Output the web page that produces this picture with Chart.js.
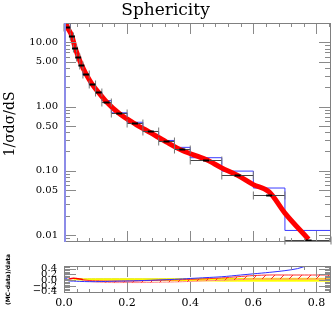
<!DOCTYPE html>
<html>
<head>
<meta charset="utf-8">
<script src="https://cdn.jsdelivr.net/npm/chart.js@4.4.0/dist/chart.umd.min.js"></script>
<style>
  body { margin: 0; background: #fff; }
  #wrap { position: relative; width: 332px; height: 310px; }
  #main { position: absolute; left: 0; top: 0; }
  #ratio { position: absolute; left: 0; top: 253px; }
</style>
</head>
<body>
<div id="wrap">
  <canvas id="main" width="332" height="254"></canvas>
  <canvas id="ratio" width="332" height="57"></canvas>
</div>
<script>
// bins and data points (1/sigma dsigma/dS)
var binEdges = [0.0, 0.02, 0.03, 0.04, 0.05, 0.06, 0.08, 0.10, 0.12, 0.15, 0.20, 0.25, 0.30, 0.35, 0.40, 0.50, 0.60, 0.70, 0.85];
var dataX = [0.01, 0.025, 0.035, 0.045, 0.055, 0.07, 0.09, 0.11, 0.135, 0.175, 0.225, 0.275, 0.325, 0.375, 0.45, 0.55, 0.65, 0.775];
var dataY = [17.5, 12.7, 8.1, 5.9, 4.5, 3.25, 2.25, 1.7, 1.19, 0.79, 0.56, 0.41, 0.29, 0.219, 0.147, 0.086, 0.042, 0.0084];
// blue histogram
var histY = [22, 12.5, 8.0, 5.7, 4.3, 3.1, 2.2, 1.68, 1.24, 0.80, 0.57, 0.41, 0.297, 0.232, 0.16, 0.099, 0.054, 0.0118];
// red curve
var mcX = [0.003, 0.01, 0.025, 0.035, 0.045, 0.055, 0.07, 0.09, 0.11, 0.135, 0.175, 0.225, 0.275, 0.325, 0.375, 0.45, 0.5, 0.55, 0.6, 0.65, 0.7, 0.775];
var mcY = [22, 17.5, 12.5, 8.3, 6.0, 4.5, 3.2, 2.2, 1.65, 1.18, 0.78, 0.54, 0.39, 0.28, 0.207, 0.15, 0.111, 0.085, 0.061, 0.047, 0.022, 0.0086];

// ratio panel (MC-data)/data
var blueRX = [0.003, 0.006, 0.012, 0.03, 0.05, 0.08, 0.12, 0.17, 0.22, 0.29, 0.35, 0.40, 0.45, 0.50, 0.56, 0.60, 0.65, 0.70, 0.74, 0.775];
var blueRY = [0.0, 0.15, -0.01, -0.03, -0.04, -0.05, -0.045, -0.03, -0.02, 0.005, 0.03, 0.06, 0.09, 0.12, 0.18, 0.22, 0.27, 0.33, 0.40, 0.52];
var redLX = [0.003, 0.01, 0.02, 0.03, 0.04, 0.05, 0.06];
var redLY = [0.0, 0.0, 0.05, 0.07, 0.06, 0.04, 0.02];
var redBandX = [0.06, 0.08, 0.1, 0.15, 0.2, 0.25, 0.3, 0.35, 0.4, 0.45, 0.5, 0.55, 0.6, 0.65, 0.7, 0.75, 0.8, 0.85];
var redUp = [0.02, -0.01, -0.02, -0.03, -0.03, -0.02, 0.0, 0.01, 0.03, 0.05, 0.08, 0.12, 0.16, 0.18, 0.18, 0.18, 0.18, 0.18];
var redLo = [0.0, -0.04, -0.06, -0.08, -0.08, -0.08, -0.07, -0.06, -0.04, -0.02, 0.0, 0.02, 0.04, 0.04, 0.04, 0.04, 0.04, 0.04];
var yellowX = [0.03, 0.05, 0.1, 0.2, 0.3, 0.4, 0.5, 0.6, 0.7, 0.85];
var yellowUp = [0.06, 0.05, 0.05, 0.05, 0.05, 0.055, 0.06, 0.065, 0.065, 0.065];
var yellowLo = [0.02, 0.0, -0.01, -0.01, -0.02, -0.03, -0.04, -0.04, -0.04, -0.04];

// tick labels
var xTicks = [0.0, 0.2, 0.4, 0.6, 0.8];
var yTicks = [0.01, 0.05, 0.1, 0.5, 1, 5, 10];
var rTicks = [-0.4, -0.2, 0.0, 0.2, 0.4];

var serif = 'DejaVu Serif';

function pts(xs, ys) {
  return xs.map(function(x, i) { return {x: x, y: ys[i]}; });
}

var xMinor = [];
for (var k = 0; k <= 21; k++) xMinor.push(k * 0.04);
var yMinor = [];
[0.001, 0.01, 0.1, 1, 10].forEach(function(d) {
  for (var m = 2; m <= 9; m++) yMinor.push(m * d);
});
var rMinor = [];
for (var k = -8; k <= 9; k++) rMinor.push(k * 0.05);

function framePlugin(yMajor, yMinorList, leftColor) {
  return {
    id: 'frame',
    afterDatasetsDraw: function(chart) {
      var a = chart.chartArea, c = chart.ctx;
      var sx = chart.scales.x, sy = chart.scales.y;
      c.save();
      c.beginPath();
      c.rect(a.left, a.top, a.right - a.left, a.bottom - a.top);
      c.clip();
      c.strokeStyle = '#8a8a8a';
      c.lineWidth = 1;
      c.beginPath();
      function vt(v, len) {
        var p = Math.round(sx.getPixelForValue(v)) + 0.5;
        c.moveTo(p, a.top); c.lineTo(p, a.top + len);
        c.moveTo(p, a.bottom); c.lineTo(p, a.bottom - len);
      }
      function ht(v, len) {
        var p = Math.round(sy.getPixelForValue(v)) + 0.5;
        c.moveTo(a.left, p); c.lineTo(a.left + len, p);
        c.moveTo(a.right, p); c.lineTo(a.right - len, p);
      }
      xMinor.forEach(function(v) { vt(v, 4); });
      xTicks.forEach(function(v) { vt(v, 11); });
      yMinorList.forEach(function(v) { ht(v, 6); });
      yMajor.forEach(function(v) { ht(v, 12); });
      c.stroke();
      c.restore();
      c.save();
      c.strokeStyle = '#808080';
      c.lineWidth = 1;
      c.strokeRect(a.left + 0.5, a.top + 0.5, a.right - a.left - 1, a.bottom - a.top - 1);
      if (leftColor) {
        c.strokeStyle = leftColor;
        c.lineWidth = 2;
        c.beginPath();
        c.moveTo(a.left + 1, a.top);
        c.lineTo(a.left + 1, a.bottom);
        c.stroke();
      }
      c.restore();
    }
  };
}

var dataBars = {
  id: 'dataBars',
  afterDatasetsDraw: function(chart) {
    var c = chart.ctx, sx = chart.scales.x, sy = chart.scales.y;
    c.save();
    for (var i = 0; i < dataY.length; i++) {
      var x0 = sx.getPixelForValue(binEdges[i]);
      var x1 = Math.min(sx.getPixelForValue(binEdges[i + 1]), chart.chartArea.right);
      var xc = sx.getPixelForValue(dataX[i]);
      var y = Math.round(sy.getPixelForValue(dataY[i])) + 0.5;
      c.strokeStyle = '#444';
      c.lineWidth = 1;
      c.beginPath();
      c.moveTo(x0, y); c.lineTo(x1, y);
      c.stroke();
      c.strokeStyle = '#777';
      c.beginPath();
      c.moveTo(x0, y - 4); c.lineTo(x0, y + 4);
      c.moveTo(x1, y - 4); c.lineTo(x1, y + 4);
      c.stroke();
      c.strokeStyle = '#000';
      c.lineWidth = 2;
      c.beginPath();
      c.moveTo(xc - 3, y); c.lineTo(xc + 3, y);
      c.stroke();
    }
    c.restore();
  }
};

var yTitle = {
  id: 'yTitle',
  afterDraw: function(chart) {
    var c = chart.ctx;
    c.save();
    c.translate(10, 124);
    c.rotate(-Math.PI / 2);
    c.font = '14px "' + serif + '"';
    c.fillStyle = '#000';
    c.textAlign = 'center';
    c.textBaseline = 'middle';
    c.fillText('1/\u03c3d\u03c3/dS', 0, 0);
    c.restore();
  }
};

function hatch() {
  var cv = document.createElement('canvas');
  cv.width = 9; cv.height = 9;
  var g = cv.getContext('2d');
  g.strokeStyle = '#ff2a2a';
  g.lineWidth = 1;
  g.beginPath();
  g.moveTo(0, 9); g.lineTo(9, 0);
  g.moveTo(-1, 1); g.lineTo(1, -1);
  g.moveTo(8, 10); g.lineTo(10, 8);
  g.stroke();
  return g.createPattern(cv, 'repeat');
}

var histPts = binEdges.map(function(e, i) {
  return {x: e, y: histY[Math.min(i, histY.length - 1)]};
});

new Chart(document.getElementById('main'), {
  type: 'line',
  data: {
    datasets: [
      {
        label: 'MC',
        data: pts(mcX, mcY),
        borderColor: '#ff0000',
        borderWidth: 5,
        pointRadius: 0,
        cubicInterpolationMode: 'monotone',
        clip: 0
      },
      {
        label: 'hist',
        data: histPts,
        borderColor: '#3c3cff',
        borderWidth: 1,
        pointRadius: 0,
        stepped: true,
        clip: 0
      }
    ]
  },
  options: {
    responsive: false,
    animation: false,
    events: [],
    layout: { padding: { left: 0, right: 1, top: 0, bottom: 1 } },
    scales: {
      x: { type: 'linear', min: 0, max: 0.846, display: false },
      y: {
        type: 'logarithmic',
        min: 0.0078,
        max: 20,
        afterFit: function(s) { s.width = 64; },
        afterBuildTicks: function(s) { s.ticks = yTicks.map(function(v) { return {value: v}; }); },
        ticks: {
          autoSkip: false,
          padding: 6,
          color: '#000',
          font: { family: serif, size: 10 },
          callback: function(v) { return Number(v).toFixed(2); }
        },
        grid: { display: false, drawTicks: false },
        border: { display: false }
      }
    },
    plugins: {
      legend: { display: false },
      tooltip: { enabled: false },
      title: {
        display: true,
        text: 'Sphericity',
        color: '#000',
        font: { family: serif, size: 17, weight: 'normal' },
        padding: { top: 0, bottom: 2.6 }
      }
    }
  },
  plugins: [dataBars, framePlugin(yTicks, yMinor, '#8c8ce8'), yTitle]
});

new Chart(document.getElementById('ratio'), {
  type: 'line',
  data: {
    datasets: [
      {
        label: 'blue',
        data: pts(blueRX, blueRY),
        borderColor: '#3030ff',
        borderWidth: 1,
        pointRadius: 0,
        tension: 0.3,
        fill: false
      },
      {
        label: 'red low S',
        data: pts(redLX, redLY),
        borderColor: '#ff0000',
        borderWidth: 1.5,
        pointRadius: 0,
        tension: 0.4,
        fill: false
      },
      {
        label: 'red up',
        data: pts(redBandX, redUp),
        borderColor: '#ff3030',
        backgroundColor: hatch(),
        borderWidth: 1,
        pointRadius: 0,
        tension: 0.3,
        fill: '+1'
      },
      {
        label: 'red low',
        data: pts(redBandX, redLo),
        borderColor: '#ff8c8c',
        borderWidth: 1,
        pointRadius: 0,
        tension: 0.3,
        fill: false
      },
      {
        label: 'yellow up',
        data: pts(yellowX, yellowUp),
        borderColor: '#e8e800',
        backgroundColor: '#ffff00',
        borderWidth: 1,
        pointRadius: 0,
        tension: 0.3,
        fill: '+1'
      },
      {
        label: 'yellow low',
        data: pts(yellowX, yellowLo),
        borderColor: '#ffff90',
        borderWidth: 1,
        pointRadius: 0,
        tension: 0.3,
        fill: false
      }
    ]
  },
  options: {
    responsive: false,
    animation: false,
    events: [],
    layout: { padding: { left: 0, right: 1, top: 0, bottom: 0 } },
    scales: {
      x: {
        type: 'linear',
        min: 0,
        max: 0.846,
        afterFit: function(s) { s.height = 17; },
        afterBuildTicks: function(s) { s.ticks = xTicks.map(function(v) { return {value: v}; }); },
        ticks: {
          autoSkip: false,
          maxRotation: 0,
          padding: 4,
          color: '#000',
          font: { family: serif, size: 11 },
          callback: function(v) { return Number(v).toFixed(1); }
        },
        grid: { display: false, drawTicks: false },
        border: { display: false }
      },
      y: {
        type: 'linear',
        position: 'left',
        min: -0.44,
        max: 0.49,
        afterFit: function(s) { s.width = 64; },
        afterBuildTicks: function(s) { s.ticks = rTicks.map(function(v) { return {value: v}; }); },
        ticks: {
          autoSkip: false,
          padding: 7,
          color: '#000',
          font: { family: serif, size: 10 },
          callback: function(v) { return Number(v).toFixed(1).replace('-', '\u2212'); }
        },
        grid: { display: false, drawTicks: false },
        border: { display: false },
        title: {
          display: true,
          text: '(MC-data)/data',
          color: '#000',
          font: { family: 'DejaVu Sans', size: 6, weight: 'bold' },
          padding: { top: 5, bottom: 0 }
        }
      }
    },
    plugins: {
      legend: { display: false },
      tooltip: { enabled: false },
      title: { display: false }
    }
  },
  plugins: [framePlugin(rTicks, rMinor, null)]
});
</script>
</body>
</html>
